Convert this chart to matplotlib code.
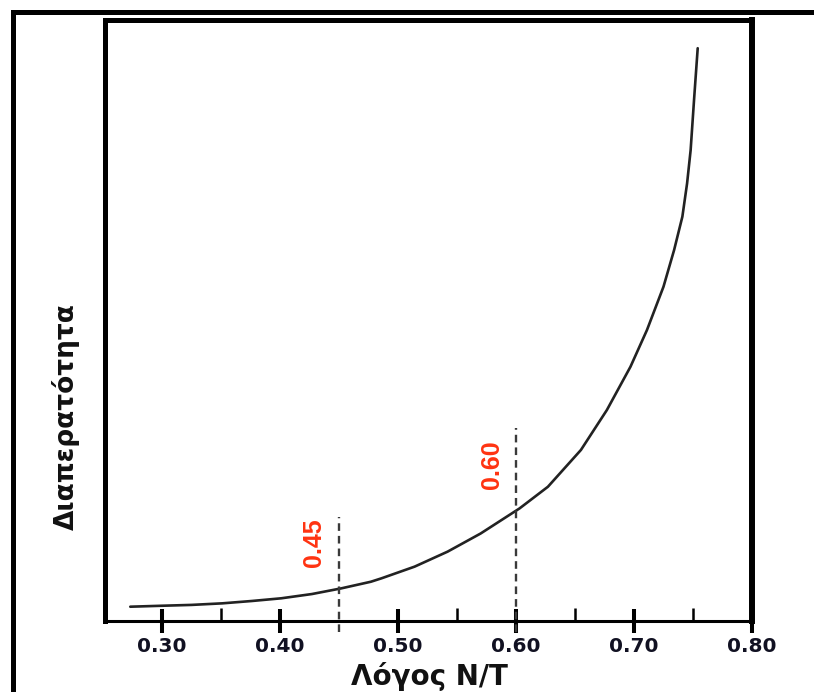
"""Permeability versus N/T ratio curve."""

import matplotlib

matplotlib.use("Agg")

import matplotlib.pyplot as plt
from matplotlib.patches import Rectangle
from matplotlib.ticker import FixedLocator

plt.rcParams["font.family"] = ["DejaVu Sans"]
plt.rcParams["lines.scale_dashes"] = False

# curve (y has no scale, 0..100 = bottom..top of the box)
ratio = [0.273, 0.300, 0.325, 0.351, 0.376, 0.401, 0.427, 0.452, 0.477,
         0.486, 0.514, 0.542, 0.570, 0.603, 0.627, 0.655, 0.677, 0.697,
         0.711, 0.725, 0.734, 0.741, 0.745, 0.748, 0.751, 0.754]
permeability = [2.30, 2.46, 2.60, 2.86, 3.25, 3.70, 4.41, 5.36, 6.46,
                7.03, 8.97, 11.47, 14.49, 18.67, 22.27, 28.40, 35.05, 42.26,
                48.38, 55.59, 61.70, 67.25, 72.80, 78.32, 87.0, 95.3]

marker_x = [0.45, 0.60]
marker_top = [17.2, 32.1]
marker_text = ["0.45", "0.60"]
marker_text_pos = [(0.429, 12.9), (0.5796, 25.9)]

major_ticks = [0.30, 0.40, 0.50, 0.60, 0.70, 0.80]
minor_ticks = [0.35, 0.55, 0.65, 0.75]
tick_labels = ["0.30", "0.40", "0.50", "0.60", "0.70", "0.80"]

fig = plt.figure(figsize=(8.14, 6.92), dpi=100)
ax = fig.add_axes([0.1296, 0.1033, 0.7942, 0.8678])

ax.plot(ratio, permeability, color="#222222", linewidth=1.9,
        solid_capstyle="round", solid_joinstyle="round")

for xv, top in zip(marker_x, marker_top):
    ax.plot([xv, xv], [-1.9, top], color="#3a3a3a", linewidth=1.7,
            linestyle=(0, (5.5, 3.6)), clip_on=False)
for txt, (tx, ty) in zip(marker_text, marker_text_pos):
    ax.text(tx, ty, txt, rotation=90, ha="center", va="center",
            color="#ff3311", fontsize=18, fontweight="bold",
            family=["Liberation Sans", "DejaVu Sans"])

ax.set_xlim(0.252, 0.80)
ax.set_ylim(0, 100)
ax.set_yticks([])
ax.set_xticks(major_ticks)
ax.set_xticklabels(tick_labels, fontsize=14.5, fontweight="bold", color="#111122")
ax.xaxis.set_minor_locator(FixedLocator(minor_ticks))
ax.tick_params(axis="x", which="major", direction="inout", length=17.5, width=2.9, pad=3)
ax.tick_params(axis="x", which="minor", direction="in", length=9.4, width=1.8)

ax.spines["left"].set_linewidth(3.6)
ax.spines["top"].set_linewidth(3.6)
ax.spines["right"].set_linewidth(4.3)
ax.spines["bottom"].set_linewidth(2.2)

ax.text(0.5004, -0.107, "Λόγος N/T", transform=ax.transAxes, ha="center",
        va="baseline", fontsize=20, fontweight="bold", color="#111111")
ax.text(-0.061, 0.339, "Διαπερατότητα", transform=ax.transAxes, rotation=90,
        ha="center", va="center", fontsize=19, fontweight="bold", color="#111111")

# outer frame around the whole picture
fig.patches.append(Rectangle((0.016, -0.1), 1.1, 1.082, transform=fig.transFigure,
                             fill=False, edgecolor="black", linewidth=3.6))

fig.savefig("out.png", dpi=100)
